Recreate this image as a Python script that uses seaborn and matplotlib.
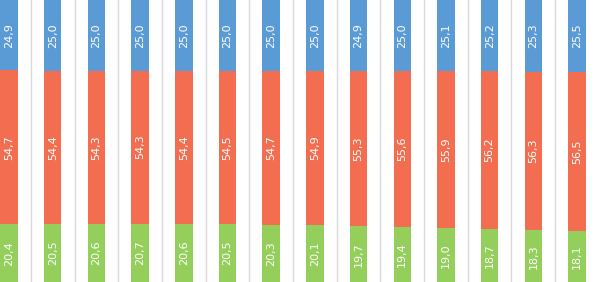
import matplotlib
matplotlib.use("Agg")
import matplotlib.pyplot as plt
import seaborn as sns
import numpy as np

categories = [str(i) for i in range(1, 15)]
green = [20.4, 20.5, 20.6, 20.7, 20.6, 20.5, 20.3, 20.1, 19.7, 19.4, 19.0, 18.7, 18.3, 18.1]
red = [54.7, 54.4, 54.3, 54.3, 54.4, 54.5, 54.7, 54.9, 55.3, 55.6, 55.9, 56.2, 56.3, 56.5]
blue = [24.9, 25.0, 25.0, 25.0, 25.0, 25.0, 25.0, 25.0, 24.9, 25.0, 25.1, 25.2, 25.3, 25.5]

sns.set_theme(style="white")
plt.rcParams['font.family'] = ['DejaVu Sans']

fig = plt.figure(figsize=(5.98, 2.82), dpi=100)
ax = fig.add_axes([0, 0, 1, 1])

g = np.array(green)
r = np.array(red)
b = np.array(blue)
c_green = "#94CF5C"
c_red = "#F36E50"
c_blue = "#5B9BD5"

# boundaries between categories
for i in range(len(categories) + 1):
    ax.axvline(i - 0.5, color="#D9D9D9", lw=1.0, zorder=0)

kw = dict(width=0.4, saturation=1, ax=ax, linewidth=0, edgecolor="none")
sns.barplot(x=categories, y=g + r + b, color=c_blue, zorder=2, **kw)
sns.barplot(x=categories, y=g + r, color=c_red, zorder=3, **kw)
sns.barplot(x=categories, y=g, color=c_green, zorder=4, **kw)

fmt = lambda v: f"{v:.1f}".replace(".", ",")
fs = 8
for i in range(len(categories)):
    ax.text(i, g[i] / 2, fmt(g[i]), rotation=90, ha="center", va="center", color="white", fontsize=fs, zorder=5)
    ax.text(i, g[i] + r[i] / 2, fmt(r[i]), rotation=90, ha="center", va="center", color="white", fontsize=fs, zorder=5)
    ax.text(i, g[i] + r[i] + b[i] / 2, fmt(b[i]), rotation=90, ha="center", va="center", color="white", fontsize=fs, zorder=5)

ax.set_xlim(-0.206, 13.48)
ax.set_ylim(0, 100)
ax.axis("off")
fig.savefig("out.png", dpi=100)
